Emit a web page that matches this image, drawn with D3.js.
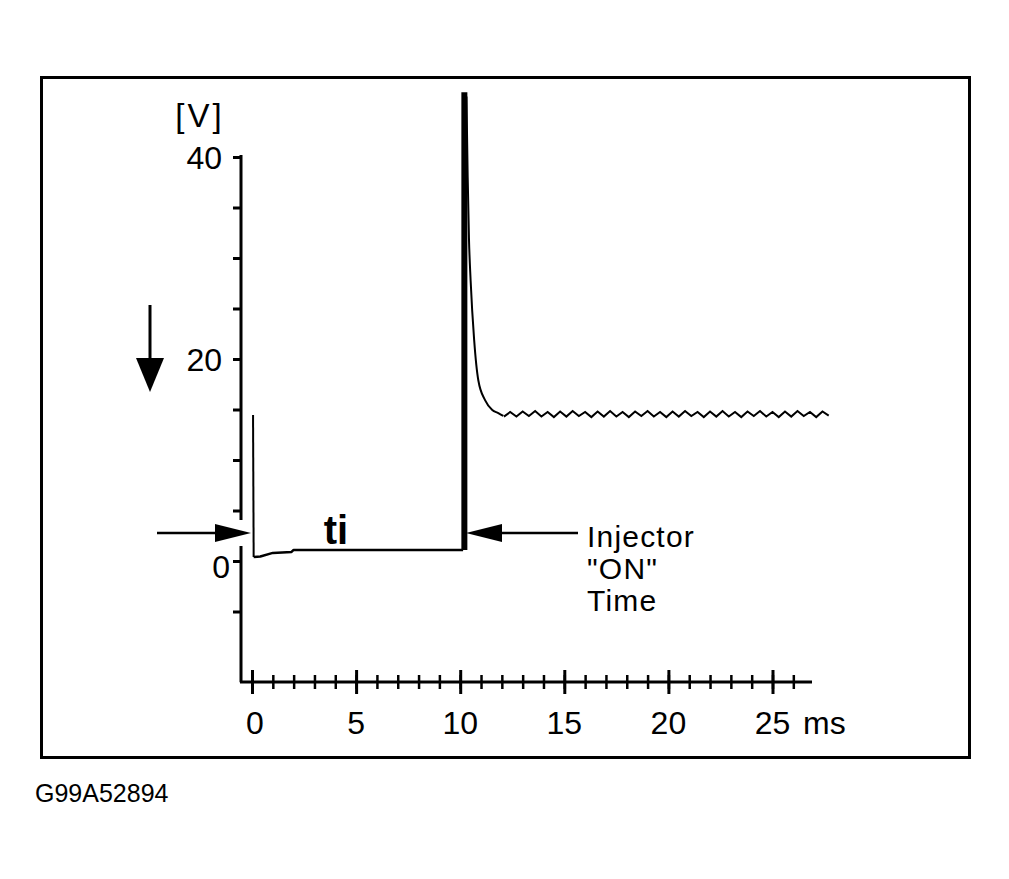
<!DOCTYPE html>
<html>
<head>
<meta charset="utf-8">
<script src="https://cdn.jsdelivr.net/npm/d3@7"></script>
<style>
  html, body { margin: 0; padding: 0; background: #fff; }
  svg { display: block; }
  text { font-family: "Liberation Sans", Arial, Helvetica, sans-serif; fill: #000; }
</style>
</head>
<body>
<svg id="chart" width="1009" height="879"></svg>
<script>
// ---- Data ----
// Time in ms, voltage in V
const preTime    = [0.05, 0.08, 0.4, 1.0, 1.9, 2.0, 10.14];
const preVolt    = [14.45, 0.4, 0.45, 0.8, 0.9, 1.1, 1.1];
const decayTime  = [10.3, 10.36, 10.42, 10.5, 10.67, 10.87, 11.2, 11.54, 11.83, 12.07];
const decayVolt  = [46.0, 38.0, 32.0, 27.8, 21.9, 17.9, 15.9, 14.95, 14.65, 14.36];
const rippleTime = [12.1, 12.4, 12.7, 13.0, 13.3, 13.6, 13.9, 14.2, 14.5, 14.8, 15.1, 15.4, 15.7, 16.0, 16.3, 16.6,
                    16.9, 17.2, 17.5, 17.8, 18.1, 18.4, 18.7, 19.0, 19.3, 19.6, 19.9, 20.2, 20.5, 20.8, 21.1, 21.4,
                    21.7, 22.0, 22.3, 22.6, 22.9, 23.2, 23.5, 23.8, 24.1, 24.4, 24.7, 25.0, 25.3, 25.6, 25.9, 26.2,
                    26.5, 26.8, 27.1, 27.4, 27.7];
const rippleVolt = [14.3, 14.75, 14.3, 14.8, 14.35, 14.85, 14.3, 14.75, 14.25, 14.8, 14.3, 14.85, 14.35, 14.75, 14.25, 14.8,
                    14.3, 14.85, 14.3, 14.75, 14.25, 14.8, 14.35, 14.85, 14.3, 14.75, 14.25, 14.8, 14.3, 14.85, 14.35, 14.75,
                    14.25, 14.8, 14.3, 14.85, 14.3, 14.75, 14.25, 14.8, 14.35, 14.85, 14.3, 14.75, 14.25, 14.8, 14.3, 14.85,
                    14.35, 14.75, 14.25, 14.8, 14.4];
const spikeBarTime = [10.2, 10.2];
const spikeBarVolt = [1.1, 46.4];

const xTickMinor = d3.range(0, 27);
const xTickMajor = [0, 5, 10, 15, 20, 25];
const xTickLabels = ["0", "5", "10", "15", "20", "25"];
const yTicks = [-5, 0, 5, 10, 15, 20, 25, 30, 35, 40];
const yLabelValues = [40, 20, 0];
const yLabels = ["40", "20", "0"];
const injectorLines = ["Injector", "\"ON\"", "Time"];

// ---- Scales ----
const x = d3.scaleLinear().domain([0, 25]).range([252, 772.5]);
const y = d3.scaleLinear().domain([0, 40]).range([561, 157]);

const svg = d3.select("#chart");

// Frame
svg.append("rect")
  .attr("x", 41.5).attr("y", 77.5).attr("width", 928).attr("height", 680)
  .attr("fill", "none").attr("stroke", "#000").attr("stroke-width", 3);

// Y axis
const yAxis = d3.axisLeft(y).tickValues(yTicks).tickSize(8).tickSizeOuter(0).tickFormat("");
const gy = svg.append("g").attr("transform", "translate(241,0)").call(yAxis);
gy.select(".domain").remove();
gy.selectAll(".tick line").attr("stroke", "#000").attr("stroke-width", 3);
svg.append("line")
  .attr("x1", 241).attr("x2", 241).attr("y1", y(40) - 2).attr("y2", y(-12))
  .attr("stroke", "#000").attr("stroke-width", 3);
// gap in axis where the arrow passes
svg.append("rect").attr("x", 236).attr("y", 520).attr("width", 10).attr("height", 26).attr("fill", "#fff");

// Y labels
svg.append("g").selectAll("text").data(yLabelValues).join("text")
  .attr("x", (d) => d === 0 ? 230 : 222)
  .attr("y", (d) => y(d) + (d === 0 ? 5 : 0))
  .attr("dy", "0.36em")
  .attr("text-anchor", "end")
  .attr("font-size", 32)
  .text((d, i) => yLabels[i]);

svg.append("text").attr("x", 200).attr("y", 127).attr("text-anchor", "middle")
  .attr("font-size", 33).attr("letter-spacing", 3).text("[V]");

// X axis
const xAxisY = 682;
svg.append("line")
  .attr("x1", 240).attr("x2", 812).attr("y1", xAxisY).attr("y2", xAxisY)
  .attr("stroke", "#000").attr("stroke-width", 3);
const gxMinor = svg.append("g").attr("transform", `translate(0,${xAxisY - 7})`)
  .call(d3.axisBottom(x).tickValues(xTickMinor).tickSize(14).tickSizeOuter(0).tickFormat(""));
gxMinor.select(".domain").remove();
gxMinor.selectAll(".tick line").attr("stroke", "#000").attr("stroke-width", 2.5);
const gxMajor = svg.append("g").attr("transform", `translate(0,${xAxisY - 12})`)
  .call(d3.axisBottom(x).tickValues(xTickMajor).tickSize(24).tickSizeOuter(0).tickFormat(""));
gxMajor.select(".domain").remove();
gxMajor.selectAll(".tick line").attr("stroke", "#000").attr("stroke-width", 3);

svg.append("g").selectAll("text").data(xTickMajor).join("text")
  .attr("x", (d) => x(d) + (d === 0 ? 3 : 0))
  .attr("y", 734)
  .attr("text-anchor", "middle")
  .attr("font-size", 32)
  .text((d, i) => xTickLabels[i]);
svg.append("text").attr("x", 803).attr("y", 734).attr("font-size", 32).text("ms");

// Waveform
const line = d3.line().x((d) => x(d[0])).y((d) => y(d[1]));
const smooth = d3.line().x((d) => x(d[0])).y((d) => y(d[1])).curve(d3.curveMonotoneX);
const pre = preTime.map((t, i) => [t, preVolt[i]]);
const decay = decayTime.map((t, i) => [t, decayVolt[i]]);
const ripple = rippleTime.map((t, i) => [t, rippleVolt[i]]);
const bar = spikeBarTime.map((t, i) => [t, spikeBarVolt[i]]);

svg.append("path").datum(pre.slice(0, 2)).attr("d", line)
  .attr("fill", "none").attr("stroke", "#000").attr("stroke-width", 2);
svg.append("path").datum(pre.slice(1)).attr("d", line)
  .attr("fill", "none").attr("stroke", "#000").attr("stroke-width", 2.5).attr("stroke-linejoin", "round");
svg.append("path").datum(bar).attr("d", line)
  .attr("fill", "none").attr("stroke", "#000").attr("stroke-width", 6);
svg.append("path").datum(decay).attr("d", smooth)
  .attr("fill", "none").attr("stroke", "#000").attr("stroke-width", 2);
svg.append("path").datum(ripple).attr("d", line)
  .attr("fill", "none").attr("stroke", "#000").attr("stroke-width", 2).attr("stroke-linejoin", "miter");

// Arrows
const ay = 533;
svg.append("line").attr("x1", 157).attr("x2", 218).attr("y1", ay).attr("y2", ay)
  .attr("stroke", "#000").attr("stroke-width", 2.5);
svg.append("path").attr("d", `M215,${ay - 9} L251,${ay} L215,${ay + 9} Z`).attr("fill", "#000");

svg.append("line").attr("x1", 498).attr("x2", 578).attr("y1", ay).attr("y2", ay)
  .attr("stroke", "#000").attr("stroke-width", 2.5);
svg.append("path").attr("d", `M502,${ay - 9} L466,${ay} L502,${ay + 9} Z`).attr("fill", "#000");

svg.append("line").attr("x1", 150).attr("x2", 150).attr("y1", 305).attr("y2", 362)
  .attr("stroke", "#000").attr("stroke-width", 3);
svg.append("path").attr("d", "M136,358 L164,358 L150,392 Z").attr("fill", "#000");

// Labels
svg.append("text").attr("x", 336).attr("y", 544).attr("text-anchor", "middle")
  .attr("font-size", 40).attr("font-weight", "bold").text("ti");

svg.append("g").selectAll("text").data(injectorLines).join("text")
  .attr("x", 587)
  .attr("y", (d, i) => 547 + i * 32)
  .attr("font-size", 30)
  .attr("letter-spacing", 1.2)
  .text((d) => d);

svg.append("text").attr("x", 35).attr("y", 802).attr("font-size", 25).text("G99A52894");
</script>
</body>
</html>
